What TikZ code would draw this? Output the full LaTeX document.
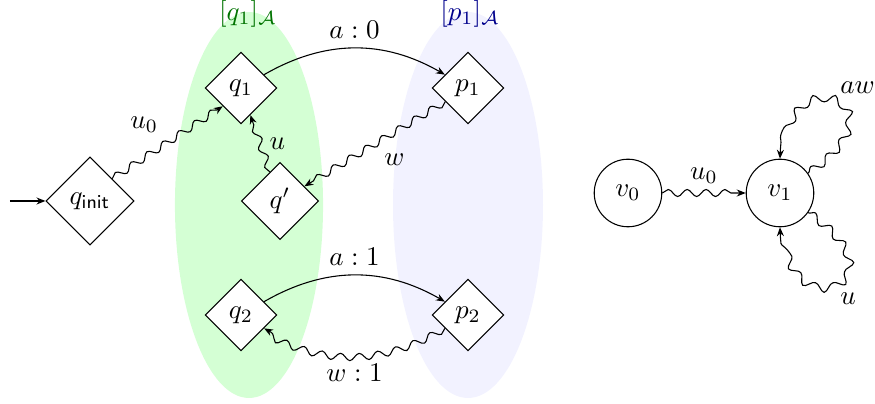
\documentclass[tikz,border=0pt]{standalone}
\usetikzlibrary{shapes.geometric,decorations.pathmorphing,arrows.meta}
\begin{document}
\begin{tikzpicture}[x=0.37pt,y=0.37pt,
  dia/.style={draw,diamond,inner sep=0pt,minimum size=26.6pt,fill=white},
  circ/.style={draw,circle,inner sep=0pt,minimum size=25pt,fill=white},
  arr/.style={-{Stealth[length=3.3pt,width=2.6pt]}},
  wig/.style={arr,decorate,decoration={snake,amplitude=1.3pt,segment length=7pt,post length=2pt}},
  loopwig/.style={arr,decorate,decoration={snake,amplitude=1.5pt,segment length=7.5pt,post length=3.5pt}}]
\useasboundingbox (0,0) rectangle (875,404);
\fill[green!17] (249,199) ellipse [x radius=27.4pt, y radius=71.4pt];
\fill[blue!5] (468,199) ellipse [x radius=27.75pt, y radius=71.4pt];
\node[text=green!45!black] (lq) at (248,390) {$[q_1]_{\mathcal{A}}$};
\node[text=blue!55!black] (lp) at (470,390) {$[p_1]_{\mathcal{A}}$};
\node[dia,minimum size=32.6pt] (qi) at (90,203) {$q_{\mathsf{init}}$};
\node[dia] (q1) at (241,316) {$q_1$};
\node[dia,minimum size=28.5pt] (qp) at (280,203) {$q'$};
\node[dia] (p1) at (468,316) {$p_1$};
\node[dia] (q2) at (241,89) {$q_2$};
\node[dia] (p2) at (468,89) {$p_2$};
\node[circ] (v0) at (628,211) {$v_0$};
\node[circ] (v1) at (780,211) {$v_1$};
\coordinate (start) at (10,203);
\draw[arr] (start) -- (qi);
\draw[wig] (qi.north east) -- node[above left] {$u_0$} (q1.south west);
\draw[wig] (qp) -- node[right] {$u$} (q1);
\draw[wig] (p1) -- node[below right] {$w$} (qp);
\draw[arr] (q1) to[bend left=30] node[above] {$a:0$} (p1);
\draw[arr] (q2) to[bend left=30] node[above] {$a:1$} (p2);
\draw[wig] (p2) to[bend left=30] node[below] {$w:1$} (q2);
\draw[wig] (v0) -- node[above] {$u_0$} (v1);
\draw[loopwig] (v1.35) .. controls +(35:120) and +(90:100) .. node[pos=0.5,above right] {$aw$} (v1.90);
\draw[loopwig] (v1.-35) .. controls +(-35:120) and +(-90:100) .. node[pos=0.5,below right] {$u$} (v1.-90);
\end{tikzpicture}
\end{document}
